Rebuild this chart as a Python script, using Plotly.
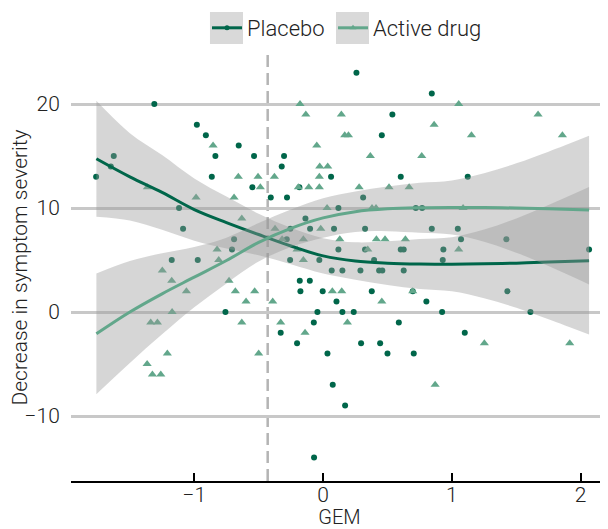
import plotly.graph_objects as go

# ---------------- data ----------------
placebo_x = [-1.31, -0.98, -0.91, -0.655, -0.836, -0.536, -1.625, -1.762, -0.864, -0.549,
             -1.118, -1.087, -0.691, -0.707, -1.175, -0.973, -1.648, -0.758,
             0.259, 0.844, 0.538, 0.456, -0.303, -0.321, 0.062, 0.603, -0.184, -0.406,
             -0.28, 0.311, 0.119, 0.72, 0.769, -0.137, -0.101, 0.085, 0.326, 0.844,
             -0.254, -0.282, 0.119, 0.326, 0.603, 0.626, 0.934,
             -0.256, -0.029, 0.396, 0.929, 0.067, 0.15, 0.29, 0.435, 0.46, 0.626,
             -0.181, -0.103, -0.176, -0.003, 0.378, 0.696, 0.104, 0.802, -0.044, 0.15,
             0.238, 0.924, -0.072, 0.588, -0.329, -0.202, 0.295, 0.443, 0.034, 0.5,
             0.704, 0.075, 0.171, -0.07,
             1.123, 1.046, 1.071, 1.423, 2.065, 1.431, 1.61, 1.1]
placebo_y = [20, 18, 17, 16, 15, 15, 15, 13, 13, 12,
             10, 8, 7, 6, 5, 5, 14, 0,
             23, 21, 19, 17, 15, 14, 13, 13, 12, 11,
             11, 11, 10, 10, 10, 9, 8, 8, 8, 8,
             8, 7, 6, 6, 6, 6, 6,
             5, 5, 5, 5, 4, 4, 4, 4, 4, 4,
             3, 3, 2, 2, 2, 2, 1, 1, 0, 0,
             0, 0, -1, -1, -2, -3, -3, -3, -4, -4,
             -4, -7, -9, -14,
             13, 8, 7, 7, 6, 2, 0, -2]

active_x = [-0.179, -0.134, 0.142, 0.168, 0.197, -0.049, 0.367, 0.766, 0.862, -0.026,
            0.036, -0.029, -0.505, -0.378, -0.487, -0.192, -0.111, -0.029, 0.28, 0.512,
            0.668, 0.031, 0.38, 0.411, -0.373, -0.018, -0.318, -0.153, 0.13, 0.414,
            0.481, 0.639, 0.347, -0.202, -0.153,
            -0.391, 0.072, 0.145, 0.456, 0.696, -0.329, 0.189, -0.14, -0.5, 0.87,
            1.053, 1.669, 1.152, 1.858, 1.087, 1.053, 1.252, 1.915,
            -0.854, -0.658, -1.364, -0.986, -0.691, -0.631, -0.823, -1.248, -1.175, -1.061,
            -0.81, -0.73, -0.681, -0.531, -0.598, -1.172, -1.338, -1.286, -0.631, -1.209,
            -1.366, -1.325, -1.26]
active_y = [20, 19, 19, 17, 17, 16, 15, 15, 18, 14,
            14, 13, 13, 13, 12, 12, 12, 12, 12, 12,
            12, 10, 10, 10, 8, 8, 7, 7, 7, 7,
            7, 7, 6, 6, 5,
            1, 2, 2, 1, 2, -1, -1, -2, -4, -7,
            20, 19, 17, 17, 10, 6, -3, -3,
            16, 13, 12, 11, 11, 9, 6, 4, 3, 2,
            5, 3, 2, 2, 1, 0, -1, -1, -1, -4,
            -5, -6, -6]

# smooth (loess) fits and their standard-error half widths
fit_x = [-1.76, -1.5, -1.25, -1.0, -0.75, -0.5, -0.25, 0.0, 0.25, 0.5, 0.75, 1.0, 1.25, 1.5, 1.75, 2.065]
placebo_fit = [14.74, 13.0, 11.5, 9.85, 8.6, 7.45, 6.35, 5.4, 4.9, 4.7, 4.62, 4.6, 4.63, 4.7, 4.8, 4.93]
placebo_se = [5.57, 4.2, 3.6, 3.0, 2.5, 2.0, 1.75, 1.7, 1.8, 2.1, 2.4, 2.6, 3.3, 4.3, 5.5, 7.1]
active_fit = [-2.1, 0.0, 1.75, 3.35, 4.95, 6.7, 8.05, 9.05, 9.65, 9.92, 10.02, 10.05, 10.05, 10.0, 9.92, 9.8]
active_se = [5.8, 4.9, 3.9, 2.9, 2.2, 1.85, 1.8, 1.9, 1.95, 2.15, 2.4, 2.6, 3.3, 4.3, 5.5, 7.15]

gem_cutoff = -0.43
x_ticks = [-1, 0, 1, 2]
x_ticktext = ["\u22121", "0", "1", "2"]
y_ticks = [-10, 0, 10, 20]
y_ticktext = ["\u221210", "0", "10", "20"]

# ---------------- style ----------------
FONT = "Roboto, Liberation Sans, sans-serif"
DARK = "#00664a"
LIGHT = "#62a78b"
BAND = "rgba(153,153,153,0.4)"
TXT = "#222222"

fig = go.Figure()

# points
fig.add_trace(go.Scatter(x=placebo_x, y=placebo_y, mode="markers", showlegend=False,
                         marker=dict(symbol="circle", size=6, color=DARK, line=dict(width=0))))
fig.add_trace(go.Scatter(x=active_x, y=active_y, mode="markers", showlegend=False,
                         marker=dict(symbol="triangle-up", size=8, color=LIGHT, line=dict(width=0))))


def add_smooth(fit, se, color):
    lo = [f - s for f, s in zip(fit, se)]
    hi = [f + s for f, s in zip(fit, se)]
    fig.add_trace(go.Scatter(x=fit_x, y=lo, mode="lines", line=dict(width=0, shape="spline"),
                             showlegend=False, hoverinfo="skip"))
    fig.add_trace(go.Scatter(x=fit_x, y=hi, mode="lines", line=dict(width=0, shape="spline"),
                             fill="tonexty", fillcolor=BAND, showlegend=False, hoverinfo="skip"))
    fig.add_trace(go.Scatter(x=fit_x, y=fit, mode="lines", showlegend=False,
                             line=dict(color=color, width=3, shape="spline")))


add_smooth(placebo_fit, placebo_se, DARK)
add_smooth(active_fit, active_se, LIGHT)

# legend entries
fig.add_trace(go.Scatter(x=[None], y=[None], mode="lines+markers", name="Placebo", legend="legend",
                         line=dict(color=DARK, width=3), marker=dict(symbol="circle", size=5, color=DARK)))
fig.add_trace(go.Scatter(x=[None], y=[None], mode="lines+markers", name="Active drug", legend="legend2",
                         line=dict(color=LIGHT, width=3), marker=dict(symbol="triangle-up", size=6, color=LIGHT)))

# legend key backgrounds
for x0, x1 in [(0.2588, 0.3203), (0.4935, 0.5549)]:
    fig.add_shape(type="rect", xref="paper", yref="paper", x0=x0, x1=x1, y0=1.0234, y1=1.0984,
                  fillcolor="#d9d9d9", line=dict(width=0), layer="below")

# threshold line
fig.add_shape(type="line", xref="x", yref="paper", x0=gem_cutoff, x1=gem_cutoff, y0=0, y1=1,
              line=dict(color="#b4b4b4", width=2.5, dash="12px,6px"), layer="below")

leg_common = dict(orientation="h", yanchor="middle", y=0.9616, yref="container",
                  xanchor="left", xref="container",
                  bgcolor="rgba(0,0,0,0)", borderwidth=0,
                  font=dict(family=FONT, size=22, color=TXT, weight=300))

# the page body adds an 8px offset, so the figure is 600x521 with margins shifted by 8px
fig.update_layout(
    width=600, height=521,
    margin=dict(l=63, r=0, t=46, b=48, autoexpand=False),
    paper_bgcolor="white", plot_bgcolor="white",
    font=dict(family=FONT, color=TXT, weight=300),
    legend=dict(x=0.3317, **leg_common),
    legend2=dict(x=0.5417, **leg_common),
    xaxis=dict(range=[-1.957, 2.212], showgrid=False, zeroline=False, automargin=False,
               showline=True, linecolor="black", linewidth=2,
               ticks="inside", ticklen=8, tickwidth=2, tickcolor="black",
               tickvals=x_ticks, ticktext=x_ticktext, ticklabelstandoff=-6,
               tickfont=dict(family=FONT, size=21, color=TXT, weight=300),
               title=dict(text="GEM", font=dict(family=FONT, size=20, color=TXT, weight=300), standoff=4)),
    yaxis=dict(range=[-16.25, 24.81], showgrid=True, gridcolor="#c8c8c8", gridwidth=3,
               zeroline=False, showline=False, automargin=False,
               ticks="outside", ticklen=6, tickcolor="rgba(0,0,0,0)",
               tickvals=y_ticks, ticktext=y_ticktext,
               tickfont=dict(family=FONT, size=21, color=TXT, weight=300),
               title=dict(text="Decrease in symptom severity",
                          font=dict(family=FONT, size=21, color=TXT, weight=300), standoff=8)),
)

fig.write_html("out.html")
